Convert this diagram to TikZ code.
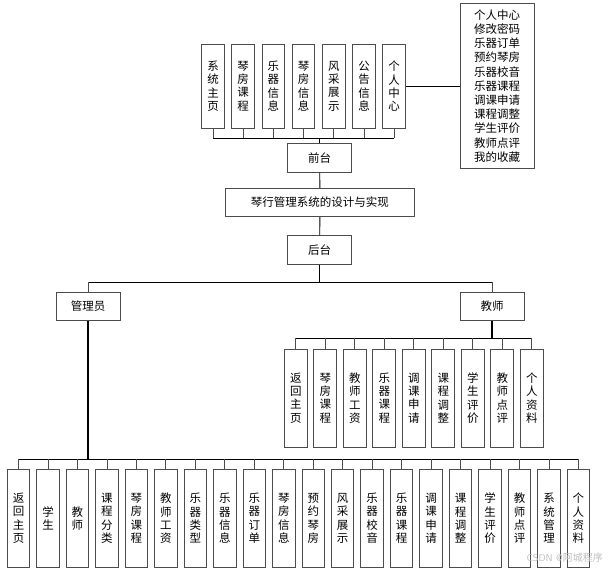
\documentclass[tikz,border=0pt]{standalone}
\usepackage{fontspec}
\newfontfamily\cjk{Noto Sans CJK SC}
\begin{document}
\begin{tikzpicture}[x=1pt,y=-1pt,
  box/.style={draw=black!70, line width=1pt, fill=white, inner sep=0pt, align=center,
    font=\cjk\fontsize{11.5}{13.3}\selectfont},
  hbox/.style={box, minimum width=64pt, minimum height=28.5pt},
  vtop/.style={box, minimum width=22.6pt, minimum height=84.3pt},
  vsub/.style={box, minimum width=23pt, minimum height=98pt},
  vbot/.style={box, minimum width=22.5pt, minimum height=98pt},
  conn/.style={draw=black, line width=0.9pt},
  stub/.style={draw=black!70, line width=0.9pt},
  thick conn/.style={draw=black, line width=1.7pt},
  wm/.style={font=\sffamily\fontsize{10}{12}\selectfont, text=black!25, inner sep=0pt}
]
\useasboundingbox (0,0) rectangle (610,576);
\fill[white] (0,0) rectangle (610,576);

% top level
\node[hbox] (front) at (319.7,158.2) {前台};
\node[box, minimum width=188.3pt, minimum height=28.4pt] (title) at (319.9,202.5) {琴行管理系统的设计与实现};
\node[hbox] (back) at (319.7,249.9) {后台};
\node[hbox] (adm) at (88,306.5) {管理员};
\node[hbox] (tea) at (492,306.5) {教师};

% front children
\foreach \t [count=\i] in {{系\\统\\主\\页},{琴\\房\\课\\程},{乐\\器\\信\\息},{琴\\房\\信\\息},{风\\采\\展\\示},{公\\告\\信\\息},{个\\人\\中\\心}}
  \node[vtop] (t\i) at ({213+30.2*(\i-1)},86.2) {\t};

\node[box, minimum width=74pt, minimum height=164.6pt, font=\cjk\fontsize{11.5}{14.2}\selectfont] (pc) at (497,86)
  {个人中心\\修改密码\\乐器订单\\预约琴房\\乐器校音\\乐器课程\\调课申请\\课程调整\\学生评价\\教师点评\\我的收藏};

% teacher children
\foreach \t [count=\i] in {{返\\回\\主\\页},{琴\\房\\课\\程},{教\\师\\工\\资},{乐\\器\\课\\程},{调\\课\\申\\请},{课\\程\\调\\整},{学\\生\\评\\价},{教\\师\\点\\评},{个\\人\\资\\料}}
  \node[vsub] (s\i) at ({295.8+29.5*(\i-1)},398) {\t};

% admin children
\foreach \t [count=\i] in {{返\\回\\主\\页},{学\\生},{教\\师},{课\\程\\分\\类},{琴\\房\\课\\程},{教\\师\\工\\资},{乐\\器\\类\\型},{乐\\器\\信\\息},{乐\\器\\订\\单},{琴\\房\\信\\息},{预\\约\\琴\\房},{风\\采\\展\\示},{乐\\器\\校\\音},{乐\\器\\课\\程},{调\\课\\申\\请},{课\\程\\调\\整},{学\\生\\评\\价},{教\\师\\点\\评},{系\\统\\管\\理},{个\\人\\资\\料}}
  \node[vbot] (b\i) at ({18.55+29.47*(\i-1)},518.3) {\t};

% bus coordinates
\coordinate (busT) at (0,138.3);
\coordinate (busM) at (0,282);
\coordinate (busS) at (0,338.3);
\coordinate (busB) at (0,459);

% front bus
\foreach \i in {1,...,7} \draw[stub] (t\i.south) -- (t\i.south |- busT);
\draw[conn] (t1.south |- busT) -- (t7.south |- busT);
\draw[conn] (front.north) -- (front.north |- busT);
\draw[conn] (t7.east) -- (pc.west |- t7.east);

% spine
\draw[conn] (front.south) -- (title.north);
\draw[conn] (title.south) -- (back.north);
\draw[conn] (back.south) -- (back.south |- busM);
\draw[conn] (adm.north |- busM) -- (tea.north |- busM);
\draw[stub] (adm.north |- busM) -- (adm.north);
\draw[stub] (tea.north |- busM) -- (tea.north);

% teacher bus
\draw[thick conn] (tea.south) -- (tea.south |- busS);
\draw[conn] (s1.north |- busS) -- (s9.north |- busS);
\foreach \i in {1,...,9} \draw[stub] (s\i.north |- busS) -- (s\i.north);

% admin bus
\draw[thick conn] (adm.south) -- (adm.south |- busB);
\draw[conn] (b1.north |- busB) -- (b20.north |- busB);
\foreach \i in {1,...,20} \draw[stub] (b\i.north |- busB) -- (b\i.north);

% watermark
\node[wm, anchor=east] (wmk) at (603,558) {CSDN @{\cjk 阿城程序}};
\end{tikzpicture}
\end{document}
